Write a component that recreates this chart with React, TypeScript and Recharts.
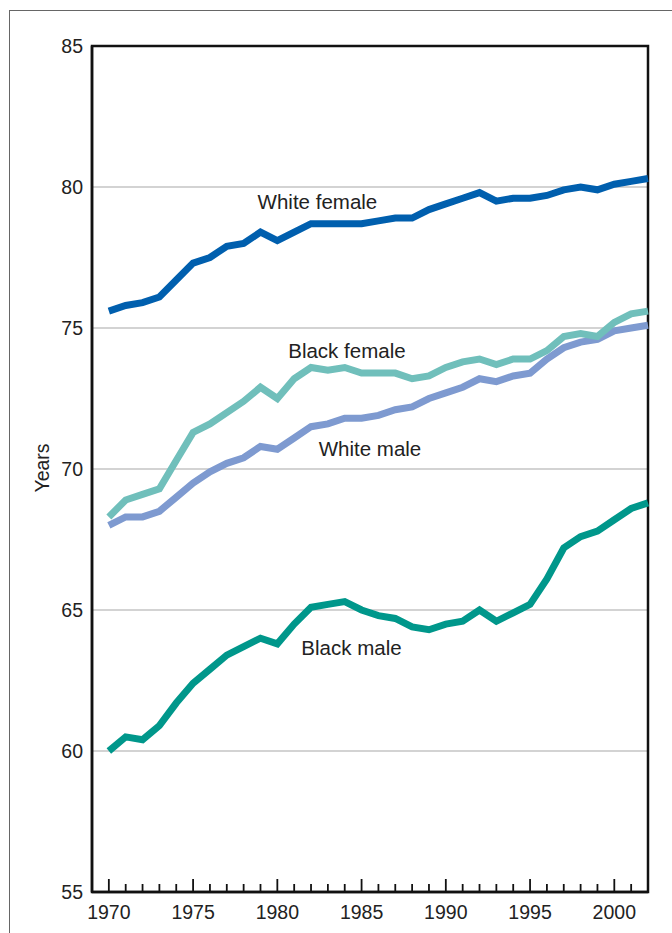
import { LineChart, Line, XAxis, YAxis, CartesianGrid, ReferenceArea, ReferenceDot } from 'recharts';

const YEARS = [
  1970, 1971, 1972, 1973, 1974, 1975, 1976, 1977, 1978, 1979,
  1980, 1981, 1982, 1983, 1984, 1985, 1986, 1987, 1988, 1989,
  1990, 1991, 1992, 1993, 1994, 1995, 1996, 1997, 1998, 1999,
  2000, 2001, 2002,
];

const WHITE_FEMALE = [
  75.6, 75.8, 75.9, 76.1, 76.7, 77.3, 77.5, 77.9, 78.0, 78.4,
  78.1, 78.4, 78.7, 78.7, 78.7, 78.7, 78.8, 78.9, 78.9, 79.2,
  79.4, 79.6, 79.8, 79.5, 79.6, 79.6, 79.7, 79.9, 80.0, 79.9,
  80.1, 80.2, 80.3,
];

const BLACK_FEMALE = [
  68.3, 68.9, 69.1, 69.3, 70.3, 71.3, 71.6, 72.0, 72.4, 72.9,
  72.5, 73.2, 73.6, 73.5, 73.6, 73.4, 73.4, 73.4, 73.2, 73.3,
  73.6, 73.8, 73.9, 73.7, 73.9, 73.9, 74.2, 74.7, 74.8, 74.7,
  75.2, 75.5, 75.6,
];

const WHITE_MALE = [
  68.0, 68.3, 68.3, 68.5, 69.0, 69.5, 69.9, 70.2, 70.4, 70.8,
  70.7, 71.1, 71.5, 71.6, 71.8, 71.8, 71.9, 72.1, 72.2, 72.5,
  72.7, 72.9, 73.2, 73.1, 73.3, 73.4, 73.9, 74.3, 74.5, 74.6,
  74.9, 75.0, 75.1,
];

const BLACK_MALE = [
  60.0, 60.5, 60.4, 60.9, 61.7, 62.4, 62.9, 63.4, 63.7, 64.0,
  63.8, 64.5, 65.1, 65.2, 65.3, 65.0, 64.8, 64.7, 64.4, 64.3,
  64.5, 64.6, 65.0, 64.6, 64.9, 65.2, 66.1, 67.2, 67.6, 67.8,
  68.2, 68.6, 68.8,
];

const Y_TICKS = [55, 60, 65, 70, 75, 80, 85];

const data = YEARS.map((year, i) => ({
  year,
  whiteFemale: WHITE_FEMALE[i],
  blackFemale: BLACK_FEMALE[i],
  whiteMale: WHITE_MALE[i],
  blackMale: BLACK_MALE[i],
}));

const FONT = '"Liberation Sans", Arial, Helvetica, sans-serif';
const TEXT = '#222';

const YearTick = ({ x, y, payload }: any) => {
  const major = payload.value % 5 === 0;
  return (
    <g>
      <line x1={x} x2={x} y1={y} y2={y - (major ? 13 : 8)} stroke="#111" strokeWidth={1.8} />
      {major && (
        <text x={x} y={y + 27} textAnchor="middle" fontSize={19.5} fontFamily={FONT} fill={TEXT}>
          {payload.value}
        </text>
      )}
    </g>
  );
};

// series names written inside the plot
const seriesLabel = (text: string) => ({
  value: text,
  position: 'center' as const,
  fill: TEXT,
  fontSize: 20.5,
  fontFamily: FONT,
});

export default function App() {
  return (
    <div style={{ position: 'absolute', left: 0, top: 0, width: 672, height: 933, background: '#fff' }}>
      <div
        style={{
          position: 'absolute',
          left: 9,
          top: 10,
          width: 720,
          height: 1000,
          borderLeft: '1.5px solid #666',
          borderTop: '1.5px solid #666',
        }}
      />
      <div
        style={{
          position: 'absolute',
          left: 42,
          top: 468,
          transform: 'translate(-50%, -50%) rotate(-90deg)',
          fontFamily: FONT,
          fontSize: 19.5,
          color: TEXT,
          whiteSpace: 'nowrap',
        }}
      >
        Years
      </div>
      <div style={{ position: 'absolute', left: 0, top: 0 }}>
        <LineChart width={672} height={933} data={data} margin={{ top: 46, right: 24, bottom: 0, left: 0 }}>
          <CartesianGrid vertical={false} stroke="#d3d3d3" strokeWidth={2} />
          <XAxis
            dataKey="year"
            type="number"
            domain={[1969, 2002]}
            ticks={YEARS}
            interval={0}
            height={41}
            tick={<YearTick />}
            tickLine={false}
            tickSize={0}
            tickMargin={0}
            axisLine={{ stroke: '#111', strokeWidth: 2.5 }}
          />
          <YAxis
            type="number"
            domain={[55, 85]}
            ticks={Y_TICKS}
            interval={0}
            width={92}
            tickLine={false}
            tickSize={0}
            tickMargin={9}
            axisLine={{ stroke: '#111', strokeWidth: 2.5 }}
            tick={{ fill: TEXT, fontSize: 19.5, fontFamily: FONT }}
          />
          <ReferenceArea x1={1969} x2={2002} y1={55} y2={85} fill="none" stroke="#111" strokeWidth={2.5} />
          <Line dataKey="whiteMale" stroke="#7e9ad0" strokeWidth={7} dot={false} strokeLinejoin="miter" isAnimationActive={false} />
          <Line dataKey="blackFemale" stroke="#70bfbb" strokeWidth={7} dot={false} strokeLinejoin="miter" isAnimationActive={false} />
          <Line dataKey="blackMale" stroke="#00978b" strokeWidth={7} dot={false} strokeLinejoin="miter" isAnimationActive={false} />
          <Line dataKey="whiteFemale" stroke="#005fae" strokeWidth={7} dot={false} strokeLinejoin="miter" isAnimationActive={false} />
          <ReferenceDot x={1982.38} y={79.47} r={0} fill="none" stroke="none" label={seriesLabel('White female')} />
          <ReferenceDot x={1984.13} y={74.21} r={0} fill="none" stroke="none" label={seriesLabel('Black female')} />
          <ReferenceDot x={1985.5} y={70.73} r={0} fill="none" stroke="none" label={seriesLabel('White male')} />
          <ReferenceDot x={1984.4} y={63.68} r={0} fill="none" stroke="none" label={seriesLabel('Black male')} />
        </LineChart>
      </div>
    </div>
  );
}
